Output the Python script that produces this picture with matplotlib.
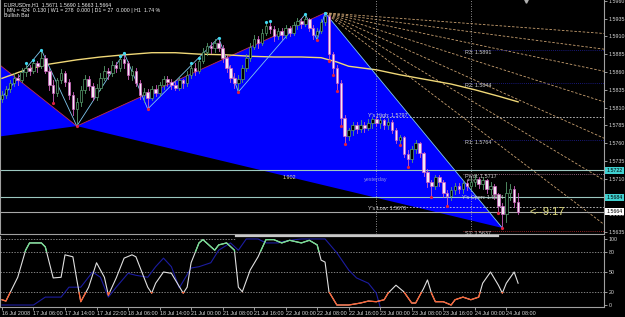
import matplotlib
matplotlib.use("Agg")
import matplotlib.pyplot as plt
from matplotlib.patches import Rectangle
import numpy as np

# ---------------- data ----------------
first_open = 1.5822
closes = [1.5828,1.5836,1.5845,1.5852,1.5849,1.5860,1.5866,1.5862,1.5872,1.5868,
          1.5880,1.5862,1.5842,1.5830,1.5848,1.5858,1.5846,1.5828,1.5808,1.5818,
          1.5835,1.5850,1.5840,1.5825,1.5838,1.5852,1.5862,1.5858,1.5870,1.5866,
          1.5878,1.5872,1.5856,1.5862,1.5845,1.5828,1.5832,1.5824,1.5836,1.5830,
          1.5842,1.5850,1.5846,1.5842,1.5838,1.5848,1.5844,1.5856,1.5866,1.5862,
          1.5875,1.5888,1.5896,1.5893,1.5900,1.5894,1.5880,1.5866,1.5852,1.5845,
          1.5850,1.5866,1.5880,1.5895,1.5906,1.5900,1.5915,1.5925,1.5920,1.5910,
          1.5918,1.5912,1.5922,1.5915,1.5926,1.5932,1.5928,1.5934,1.5922,1.5912,
          1.5918,1.5930,1.5938,1.5885,1.5866,1.5845,1.5795,1.5770,1.5778,1.5785,
          1.5780,1.5786,1.5782,1.5788,1.5794,1.5788,1.5792,1.5785,1.5790,1.5778,
          1.5765,1.5768,1.5745,1.5738,1.5752,1.5760,1.5746,1.5720,1.5705,1.5700,
          1.5712,1.5706,1.5690,1.5686,1.5694,1.5700,1.5696,1.5704,1.5700,1.5706,
          1.5710,1.5702,1.5708,1.5696,1.5700,1.5688,1.5672,1.5660,1.5690,1.5696,
          1.5678,1.5664]
highs = [1.5833,1.5840,1.5849,1.5858,1.5857,1.5866,1.5872,1.5870,1.5877,1.5876,
         1.5891,1.5884,1.5866,1.5848,1.5852,1.5864,1.5862,1.5850,1.5832,1.5824,
         1.5840,1.5856,1.5855,1.5845,1.5843,1.5858,1.5868,1.5866,1.5876,1.5874,
         1.5882,1.5887,1.5876,1.5868,1.5866,1.5848,1.5838,1.5836,1.5840,1.5842,
         1.5846,1.5855,1.5854,1.5850,1.5846,1.5852,1.5850,1.5862,1.5873,1.5873,
         1.5880,1.5893,1.5900,1.5902,1.5906,1.5908,1.5898,1.5884,1.5870,1.5858,
         1.5856,1.5870,1.5885,1.5900,1.5912,1.5910,1.5920,1.5930,1.5931,1.5924,
         1.5922,1.5922,1.5926,1.5925,1.5930,1.5936,1.5936,1.5941,1.5936,1.5926,
         1.5922,1.5935,1.5943,1.5940,1.5888,1.5870,1.5848,1.5800,1.5782,1.5790,
         1.5790,1.5792,1.5790,1.5794,1.5797,1.5797,1.5796,1.5794,1.5795,1.5793,
         1.5782,1.5772,1.5770,1.5750,1.5756,1.5764,1.5762,1.5748,1.5724,1.5708,
         1.5716,1.5716,1.5708,1.5694,1.5698,1.5704,1.5704,1.5708,1.5708,1.5712,
         1.5717,1.5712,1.5713,1.5710,1.5705,1.5703,1.5690,1.5676,1.5705,1.5702,
         1.5700,1.5690]
lows = [1.5818,1.5824,1.5832,1.5840,1.5842,1.5846,1.5855,1.5856,1.5858,1.5860,
        1.5865,1.5858,1.5835,1.5816,1.5826,1.5844,1.5840,1.5822,1.5800,1.5784,
        1.5812,1.5830,1.5835,1.5820,1.5820,1.5834,1.5848,1.5850,1.5854,1.5860,
        1.5862,1.5866,1.5850,1.5848,1.5840,1.5822,1.5818,1.5808,1.5820,1.5826,
        1.5826,1.5836,1.5840,1.5836,1.5834,1.5834,1.5838,1.5840,1.5852,1.5856,
        1.5858,1.5872,1.5884,1.5886,1.5888,1.5890,1.5874,1.5860,1.5846,1.5838,
        1.5832,1.5846,1.5862,1.5876,1.5892,1.5894,1.5898,1.5912,1.5914,1.5904,
        1.5906,1.5906,1.5908,1.5910,1.5912,1.5920,1.5922,1.5924,1.5918,1.5906,
        1.5905,1.5914,1.5926,1.5875,1.5856,1.5833,1.5784,1.5759,1.5764,1.5772,
        1.5774,1.5776,1.5776,1.5778,1.5782,1.5784,1.5782,1.5780,1.5780,1.5774,
        1.5760,1.5757,1.5740,1.5727,1.5734,1.5746,1.5740,1.5714,1.5698,1.5684,
        1.5695,1.5700,1.5684,1.5672,1.5680,1.5688,1.5690,1.5690,1.5694,1.5696,
        1.5700,1.5697,1.5696,1.5690,1.5688,1.5682,1.5662,1.5641,1.5650,1.5680,
        1.5670,1.5660]

up_fractal_bars = [6, 8, 10, 30, 31, 48, 50, 55, 67, 68, 77, 82]
down_fractal_bars = [13, 19, 37, 60, 80, 83, 84, 85, 86, 87, 101, 103, 109, 113, 126, 127]

# harmonic pattern points (bar, price)
pat_x = [-40, -12, 19, 82, 127]
pat_y = [1.5740, 1.5920, 1.5784, 1.5943, 1.5641]
pattern_ratio = "1.902"

zigzag_x = [-0.5, 10, 19, 31, 37, 55, 60, 77, 80, 82, 127]
zigzag_y = [1.5821, 1.5891, 1.5784, 1.5887, 1.5808, 1.5908, 1.5832, 1.5941, 1.5905, 1.5943, 1.5641]

ma_x = [0, 6, 12, 19, 25, 31, 38, 44, 50, 57, 63, 69, 76, 81, 85, 88, 95, 101, 107, 114, 120, 126, 131]
ma_y = [1.5851, 1.5863, 1.5871, 1.5877, 1.5881, 1.5884, 1.5887, 1.5887, 1.5885, 1.5884, 1.5882,
        1.5881, 1.5881, 1.5880, 1.5874, 1.5868, 1.5863, 1.5856, 1.5850, 1.5843, 1.5835, 1.5826, 1.5818]

fan_end_prices = [1.5914, 1.5892, 1.5861, 1.5818, 1.5767, 1.5708, 1.5646]

pivot_names = ["R3", "R2", "R1", "Pivot", "S1"]
pivot_values = [1.5891, 1.5844, 1.5764, 1.5717, 1.5637]
yest_high, yest_low, yest_open = 1.5797, 1.5670, 1.5684
level_a, level_b, bid = 1.5722, 1.5684, 1.5664

stoch_x = [0,1,4,6,7,8,10,11,13,15,16,18,19,20,22,24,26,27,29,31,33,34,37,38,39,41,43,46,47,48,
           50,51,54,55,57,59,60,61,63,65,67,69,71,73,76,78,80,81,82,83,85,88,91,93,95,97,98,100,
           102,104,105,107,108,109,110,112,114,115,117,119,121,122,124,126,127,128,130,131]
stoch_v = [8,6,42,83,94,94,94,88,41,42,76,73,38,5,27,64,42,15,41,71,76,73,27,18,33,50,48,18,27,64,
           94,99,83,91,94,83,27,20,53,73,99,99,94,98,94,98,91,68,65,20,0,0,3,6,5,8,18,30,
           20,3,3,25,38,18,5,5,0,8,12,8,12,33,50,30,18,33,50,33]
sig_x = [0,4,8,11,15,17,20,23,25,27,29,32,34,37,39,41,43,45,48,50,53,55,58,60,62,65,67,70,73,76,79,82,85,88,90,93,95,96]
sig_v = [0,0,0,12,12,27,27,50,42,12,27,48,45,42,58,71,58,26,56,58,64,83,94,83,100,100,94,94,98,100,100,100,79,53,41,33,18,-3]

date_labels = ["16 Jul 2008", "17 Jul 06:00", "17 Jul 14:00", "17 Jul 22:00", "18 Jul 06:00",
               "18 Jul 14:00", "21 Jul 00:00", "21 Jul 08:00", "21 Jul 16:00", "22 Jul 00:00",
               "22 Jul 08:00", "22 Jul 16:00", "23 Jul 00:00", "23 Jul 08:00", "23 Jul 16:00",
               "24 Jul 00:00", "24 Jul 08:00"]
price_ticks = [1.5635, 1.5660, 1.5710, 1.5735, 1.5760, 1.5785, 1.5810, 1.5835,
               1.5860, 1.5885, 1.5910, 1.5935, 1.5960]
ind_levels = [0, 20, 50, 80, 100]

# ---------------- figure ----------------
plt.rcParams["font.family"] = ["Liberation Sans", "DejaVu Sans"]
NARROW = ["Liberation Sans Narrow", "Liberation Sans", "DejaVu Sans"]
W, H = 625, 317
fig = plt.figure(figsize=(W/100, H/100), dpi=100, facecolor="black")
ax = fig.add_axes([0, 1-234/H, 604/W, 234/H], facecolor="black")
axi = fig.add_axes([0, 1-307/H, 604/W, 71/H], facecolor="black")
XMIN, XMAX = -0.5, 152.8
ax.set_xlim(XMIN, XMAX); ax.set_ylim(1.56325, 1.5961)
axi.set_xlim(XMIN, XMAX); axi.set_ylim(-3, 104.5)

for a in (ax, axi):
    for s in a.spines.values():
        s.set_color("#a0a0a0"); s.set_linewidth(0.8)
    a.spines["top"].set_visible(False)

fs = 3.9
afs = 3.8
tc = "#d8d8d8"
# price axis
ax.yaxis.tick_right()
ax.set_yticks(price_ticks)
ax.set_yticklabels([f"{p:.4f}" for p in price_ticks])
ax.tick_params(axis="y", colors=tc, labelsize=afs, length=2, width=0.5, pad=1.5)
ax.set_xticks([])
axi.yaxis.tick_right()
axi.set_yticks(ind_levels)
axi.set_yticklabels([str(v) for v in ind_levels])
axi.tick_params(axis="y", colors=tc, labelsize=afs, length=2, width=0.5, pad=1.5)
axi.set_xticks(np.arange(len(date_labels)) * 8)
axi.set_xticklabels(date_labels, fontfamily=NARROW, fontsize=3.9, ha="left")
axi.tick_params(axis="x", colors=tc, length=2, width=0.5, pad=1)

# blue pattern triangles
ax.fill(pat_x[0:3], pat_y[0:3], color="#0000ff", zorder=1, lw=0)
ax.fill(pat_x[2:5], pat_y[2:5], color="#0000ff", zorder=1, lw=0)
ax.plot([pat_x[1], pat_x[2], pat_x[3]], [pat_y[1], pat_y[2], pat_y[3]], color="#c03050", lw=0.6, zorder=2)
ax.text((pat_x[2]+pat_x[4])/2, (pat_y[2]+pat_y[4])/2, pattern_ratio, color="#e8e0a0", fontsize=fs,
        ha="center", va="center", zorder=6)

# fan lines
for p in fan_end_prices:
    ax.plot([pat_x[3], XMAX], [pat_y[3], p], color="#c8a070", lw=0.6, ls=(0, (3, 2)), zorder=1.5)

# horizontal/vertical reference lines
ax.axhline(level_a, color="#9cc8c0", lw=0.8, zorder=2)
ax.axhline(level_b, color="#9cc8c0", lw=0.8, zorder=2)
ax.axhline(bid, color="#a8a8a8", lw=0.8, zorder=2)
ax.axvline(95, color="#c0c0c0", lw=0.6, ls=(0, (1, 2)), zorder=2)
ax.axvline(119, color="#c0c0c0", lw=0.6, ls=(0, (1, 2)), zorder=2)
ax.plot([95, XMAX], [yest_high]*2, color="#d0d0d0", lw=0.6, ls=(0, (2, 2)), zorder=2)
ax.plot([95, XMAX], [yest_low]*2, color="#d0d0d0", lw=0.6, ls=(0, (2, 2)), zorder=2)
piv_cols = ["#2020a0", "#2020a0", "#2020a0", "#c080a0", "#c03030"]
for n, v, c in zip(pivot_names, pivot_values, piv_cols):
    ax.plot([117, XMAX], [v, v], color=c, lw=0.6, ls=(0, (1, 1.5)), zorder=2)
    ax.text(117.6, v - 0.00035, f"{n}: {v:.4f}", color="#d0d0d0", fontsize=fs, ha="left", va="center", zorder=6)
ax.text(118, pivot_values[3] - 0.0008, "daily", color="#a0a0a0", fontsize=3.0, ha="left", va="center", zorder=6)
ax.text(116.8, yest_open - 0.00005, f"Y's Open: {yest_open:.4f}", color="#d0d0d0", fontsize=fs, ha="left", va="center", zorder=6)
ax.text(92.8, yest_high + 0.0002, f"Y's High: {yest_high:.4f}", color="#d0d0d0", fontsize=fs, ha="left", va="center", zorder=6)
ax.text(92.8, yest_low - 0.0002, f"Y's Low: {yest_low:.4f}", color="#d0d0d0", fontsize=fs, ha="left", va="center", zorder=6)
ax.text(95, 1.5709, "yesterday", color="#9090e0", fontsize=fs, ha="center", va="center", zorder=6)
ax.text(134, bid, "<--9:17", color="#e0dc80", fontsize=8, ha="left", va="center", zorder=6)

# moving average
ax.plot(ma_x, ma_y, color="#f0d878", lw=1.0, zorder=2.5)
# zigzag
ax.plot(zigzag_x, zigzag_y, color="#80c8f0", lw=0.6, zorder=2.6)

# candles
opens = [first_open] + closes[:-1]
bars = np.arange(len(closes))
bull_col, bear_col, bear_edge = "#5aa070", "#f4e8f4", "#d060c0"
for i, o, h, l, c in zip(bars, opens, highs, lows, closes):
    up = c >= o
    wc = bull_col if up else bear_edge
    ax.plot([i, i], [l, h], color=wc, lw=0.6, zorder=3)
    ax.add_patch(Rectangle((i-0.32, min(o, c)), 0.64, max(abs(c-o), 0.00006),
                           facecolor="black" if up else bear_col, edgecolor=wc, lw=0.5, zorder=3.5))

ax.plot(up_fractal_bars, [highs[i] for i in up_fractal_bars], "o", color="#40d8f0", ms=2.3, mec="none", zorder=4)
ax.plot(down_fractal_bars, [lows[i] for i in down_fractal_bars], "o", color="#e02040", ms=2.3, mec="none", zorder=4)
# current-bar shift marker at the top edge
ax.plot([len(closes) + 1], [1.59595], marker="v", color="#b0b0b0", ms=2.5, zorder=6, clip_on=False)

# price labels on axis
for val, fc, tcol in [(level_a, "#40d0d0", "#000000"), (level_b, "#40d0d0", "#000000"), (bid, "#ffffff", "#000000")]:
    ax.text(1.004, val, f"{val:.4f}", transform=ax.get_yaxis_transform(), fontsize=afs, color=tcol,
            ha="left", va="center", zorder=10, clip_on=False,
            bbox=dict(boxstyle="square,pad=0.2", fc=fc, ec="none"))

# header text
hdr = ["EURUSDm,H1  1.5671 1.5690 1.5663 1.5664",
       "| MN = 424  0.130 | W1 = 278  0.000 | D1 = 27  0.000 | H1  1.74 %",
       "Bullish Bat"]
for k, s in enumerate(hdr):
    fig.text(4/W, 1-(4.5+k*5.6)/H, s, color="#f0f0f0", fontsize=3.8, ha="left", va="center")

# indicator
for lv in (20, 50, 80):
    axi.axhline(lv, color="#b0b0b0", lw=0.5, ls=(0, (2, 2)))
axi.plot([XMIN, 59.5], [100, 100], color="#b0b0b0", lw=0.5, ls=(0, (2, 2)))
axi.plot([59.5, 126], [104, 104], color="#c8c8c8", lw=1.6, clip_on=False)
axi.plot(sig_x, sig_v, color="#1c1ca0", lw=0.8)
axi.plot(stoch_x, stoch_v, color="#e0e0e0", lw=0.8)
lg, = axi.plot(stoch_x, stoch_v, color="#70e090", lw=0.9)
lg.set_clip_path(Rectangle((XMIN, 80), XMAX - XMIN, 40, transform=axi.transData))
lr, = axi.plot(stoch_x, stoch_v, color="#ff6030", lw=0.9)
lr.set_clip_path(Rectangle((XMIN, -10), XMAX - XMIN, 30, transform=axi.transData))

fig.savefig("out.png", dpi=100, facecolor="black")
